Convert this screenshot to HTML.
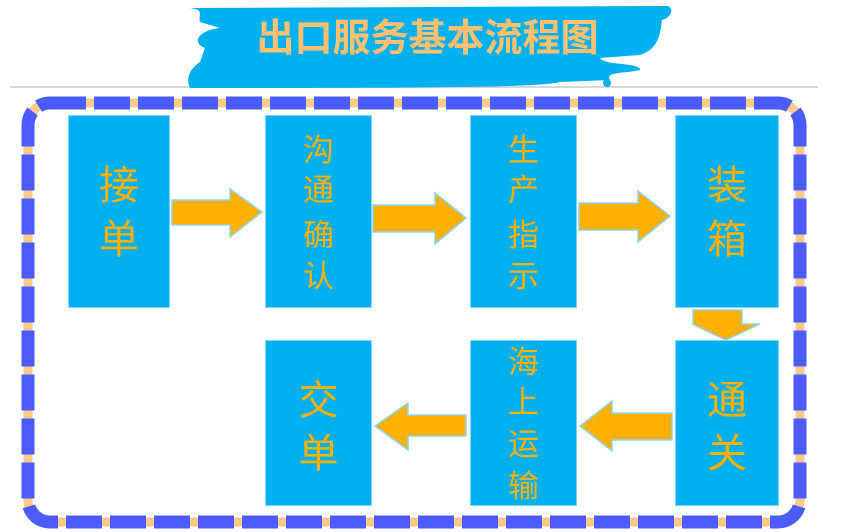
<!DOCTYPE html>
<html><head><meta charset="utf-8"><style>
html,body{margin:0;padding:0;background:#fff;}
body{width:859px;height:532px;position:relative;overflow:hidden;font-family:"Liberation Sans","Noto Sans CJK SC",sans-serif;}
.b{position:absolute;background:#00B0F0;border:1px solid #7fd6f7;box-sizing:border-box;color:#FFB000;text-align:center;}
.t{position:absolute;left:0;right:0;text-align:center;line-height:1;}
</style></head><body>
<svg width="859" height="532" style="position:absolute;left:0;top:0">
<line x1="10" y1="87" x2="818" y2="87" stroke="#c8c8c8" stroke-width="1.5"/>
<path d="M190 8 L668 6 C675 10 670 18 662 20 C660 40 655 50 640 55 L600 58 C605 66 640 62 640 70 C620 74 605 72 610 80 L560 82 C540 88 400 88 190 88 C186 80 188 70 200 62 L205 48 C190 42 200 30 220 28 L200 22 C198 14 205 10 190 8 Z" fill="#00B0F0"/>
<circle cx="607" cy="83" r="4" fill="#00B0F0"/>
<rect x="28" y="103" width="772" height="419" rx="22" fill="none" stroke="#FFC98A" stroke-width="9"/>
<rect x="28" y="103" width="772" height="419" rx="22" fill="none" stroke="#4A5CFF" stroke-width="13" stroke-dasharray="36 8"/>
<g fill="#FFB000" stroke="#8fd3f5" stroke-width="1.5">
<polygon points="172,200 230,200 230,189 262,212 230,237 230,225 172,225"/>
<polygon points="373,205 435,205 435,193 466,218 435,244 435,232 373,232"/>
<polygon points="579,203 638,203 638,191 670,216 638,242 638,230 579,230"/>
<polygon points="693,310 742,310 742,324 760,324 726,340 692,324 693,324"/>
<polygon points="672,413 612,413 612,401 580,426 612,451 612,440 672,440"/>
<polygon points="466,415 408,415 408,403 375,426 408,450 408,436 466,436"/>
</g>
</svg>
<div style="position:absolute;left:185px;top:18px;width:485px;text-align:center;font-size:38px;font-weight:bold;color:#FFC070;line-height:42px;">出口服务基本流程图</div>
<div class="b" style="left:68px;top:115px;width:102px;height:193px;">
<div class="t" style="top:50px;font-size:40px;">接</div><div class="t" style="top:104px;font-size:40px;">单</div></div>
<div class="b" style="left:265px;top:115px;width:107px;height:193px;">
<div class="t" style="top:19px;font-size:31px;">沟</div><div class="t" style="top:59px;font-size:31px;">通</div><div class="t" style="top:104px;font-size:31px;">确</div><div class="t" style="top:145px;font-size:31px;">认</div></div>
<div class="b" style="left:470px;top:115px;width:107px;height:193px;">
<div class="t" style="top:19px;font-size:31px;">生</div><div class="t" style="top:59px;font-size:31px;">产</div><div class="t" style="top:104px;font-size:31px;">指</div><div class="t" style="top:145px;font-size:31px;">示</div></div>
<div class="b" style="left:675px;top:115px;width:104px;height:193px;">
<div class="t" style="top:50px;font-size:40px;">装</div><div class="t" style="top:104px;font-size:40px;">箱</div></div>
<div class="b" style="left:675px;top:340px;width:104px;height:166px;">
<div class="t" style="top:40px;font-size:40px;">通</div><div class="t" style="top:93px;font-size:40px;">关</div></div>
<div class="b" style="left:470px;top:340px;width:107px;height:166px;">
<div class="t" style="top:6px;font-size:31px;">海</div><div class="t" style="top:46px;font-size:31px;">上</div><div class="t" style="top:88px;font-size:31px;">运</div><div class="t" style="top:130px;font-size:31px;">输</div></div>
<div class="b" style="left:265px;top:340px;width:107px;height:166px;">
<div class="t" style="top:40px;font-size:40px;">交</div><div class="t" style="top:93px;font-size:40px;">单</div></div>
</body></html>
